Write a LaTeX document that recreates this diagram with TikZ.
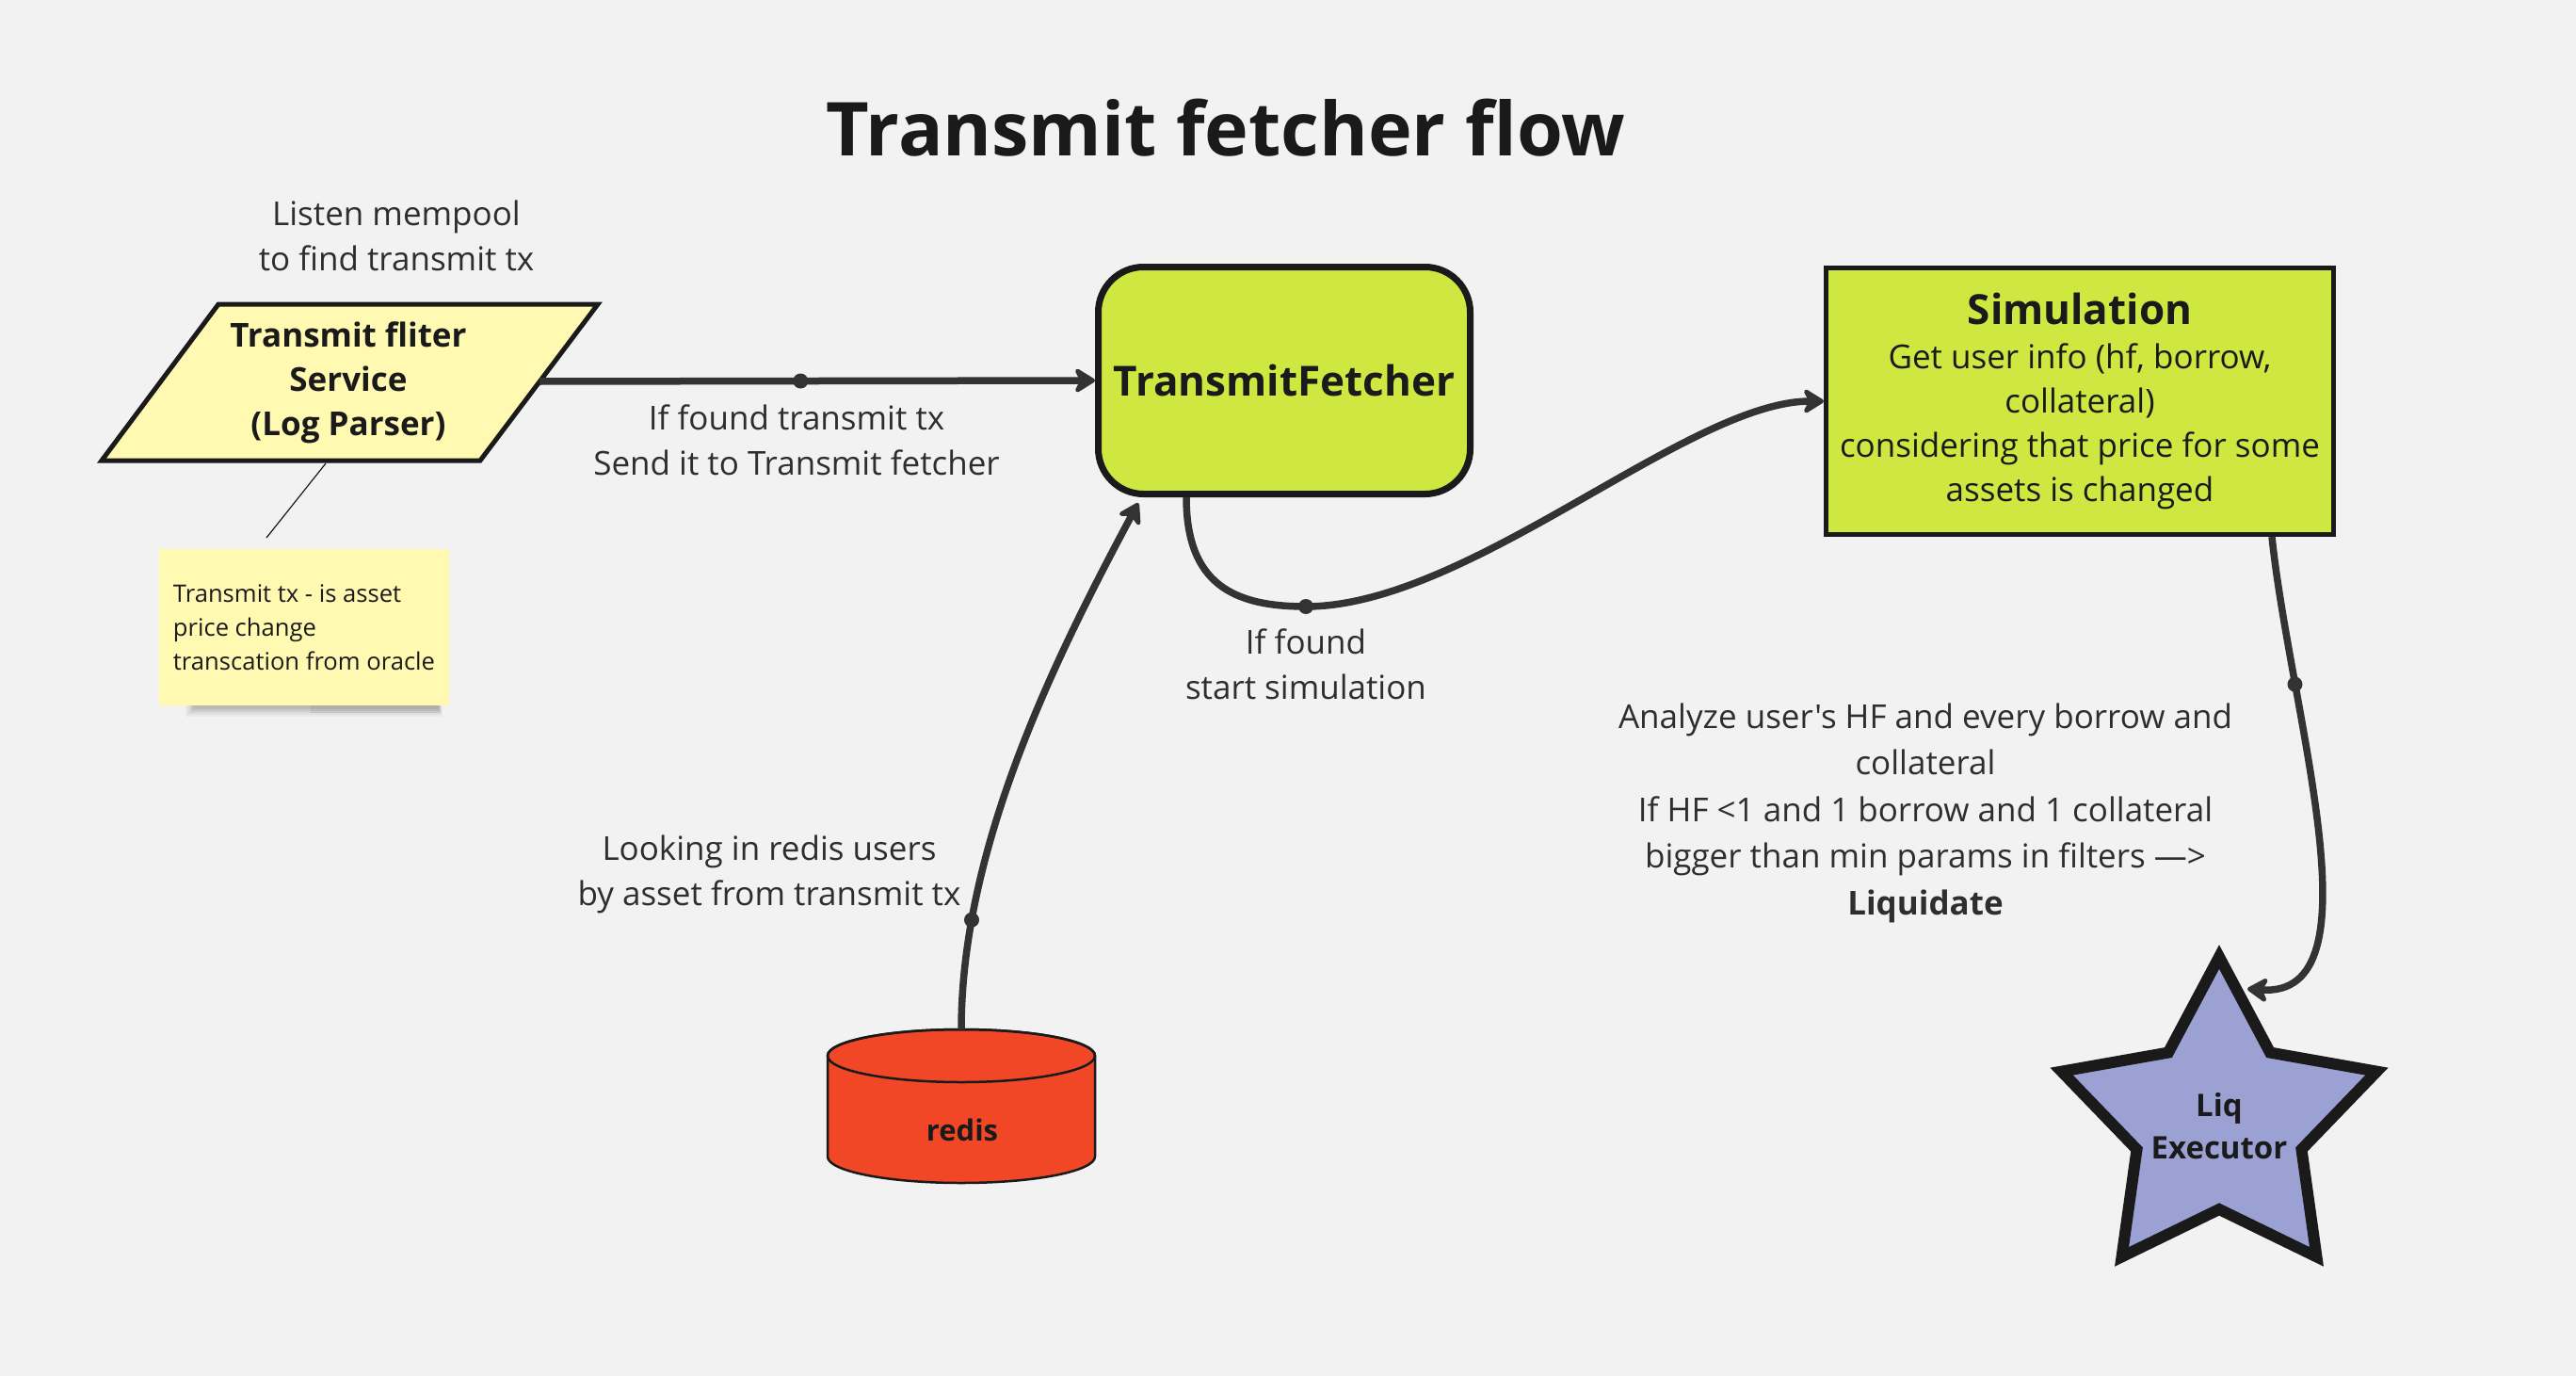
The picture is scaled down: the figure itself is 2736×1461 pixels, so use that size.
\documentclass[tikz,border=0pt]{standalone}
\usepackage{fontspec}
\setmainfont{Open Sans}[Ligatures=TeXOff]
\usetikzlibrary{arrows.meta,calc}
\definecolor{bg}{HTML}{F2F2F2}
\definecolor{lime}{HTML}{CEE741}
\definecolor{pale}{HTML}{FFF9B1}
\definecolor{redisc}{HTML}{F24726}
\definecolor{starc}{HTML}{9BA1D3}
\definecolor{ink}{HTML}{1A1A1A}
\definecolor{txt}{HTML}{2E2E2E}
\definecolor{wire}{HTML}{333333}
\begin{document}
\begin{tikzpicture}[x=1pt,y=1pt,
  conn/.style={draw=wire, line width=7.5pt, -{Stealth[length=26pt,width=32pt,inset=8pt,round]}},
  dotn/.style={circle, fill=wire, inner sep=0pt, minimum size=16pt},
  lbl/.style={text=txt, align=center, font=\fontsize{35}{48}\selectfont},
  boldtxt/.style={text=ink, align=center, font=\bfseries\fontsize{35}{47}\selectfont},
  limebox/.style={draw=ink, fill=lime, inner sep=0pt}
]
\fill[bg] (0,0) rectangle (2736,-1461);
\useasboundingbox (0,0) rectangle (2736,-1461);

% title
\node[text=ink, font=\bfseries\fontsize{79}{90}\selectfont] (title) at (1302,-136) {Transmit fetcher flow};

% filter parallelogram
\draw[draw=ink, fill=pale, line width=5pt, line join=miter] (232,-323) -- (635,-323) -- (510,-489) -- (108,-489) -- cycle;
\node[boldtxt] (filter) at (370,-406) {Transmit fliter\\Service\\(Log Parser)};
\coordinate (filterE) at (573,-405);
\coordinate (filterS) at (346,-492);
\node[lbl] (listen) at (421,-250) {Listen mempool\\to find transmit tx};

% sticky note shadow
\foreach \i/\o in {0/0.07,2/0.06,4/0.05,6/0.04,8/0.03}{
  \fill[black, opacity=\o] (205-\i,-745) rectangle (466+\i/2,-753-\i);
}
\fill[black, opacity=0.06] (330,-748) rectangle (468,-757);
\node[fill=pale, minimum width=308pt, minimum height=166pt, inner sep=0pt, align=left,
      text=ink, font=\fontsize{25.6}{36}\selectfont] (note) at (323,-666)
      {Transmit tx - is asset\\price change\\transcation from oracle};
\coordinate (noteN) at (283,-571);
\draw[ink, line width=1.2pt] (filterS) -- (noteN);

% TransmitFetcher
\node[limebox, rounded corners=48pt, line width=7pt, minimum width=395pt, minimum height=241pt,
      font=\bfseries\fontsize{44}{50}\selectfont, text=ink] (tf) at (1364,-404) {TransmitFetcher};

% Simulation
\node[limebox, line width=5pt, minimum width=539pt, minimum height=283pt, align=center,
      text=ink, font=\fontsize{35}{47}\selectfont] (sim) at (2209,-426)
      {{\bfseries\fontsize{44}{47}\selectfont Simulation}\\Get user info (hf, borrow,\\collateral)\\considering that price for some\\assets is changed};

% redis cylinder
\draw[draw=ink, fill=redisc, line width=2.5pt] (879,-1121) -- (879,-1228)
   arc[start angle=180, end angle=360, x radius=142pt, y radius=28pt] -- (1163,-1121)
   arc[start angle=0, end angle=180, x radius=142pt, y radius=28pt] -- cycle;
\draw[draw=ink, line width=2.5pt] (1021,-1121) ellipse[x radius=142pt, y radius=28pt];
\node[text=ink, font=\bfseries\fontsize{31}{36}\selectfont] (redis) at (1022,-1200) {redis};
\coordinate (redistop) at (1021,-1093);

% star
\begin{scope}[shift={(2357,-1192)}]
\draw[draw=ink, fill=starc, line width=12pt, line join=miter]
  (90:176pt) -- (126:92pt) -- (162:176pt) -- (198:92pt) -- (234:176pt) -- (270:92pt)
  -- (306:176pt) -- (342:92pt) -- (18:176pt) -- (54:92pt) -- cycle;
\end{scope}
\node[text=ink, align=center, font=\bfseries\fontsize{33}{45}\selectfont] (liq) at (2357,-1196) {Liq\\Executor};
\coordinate (liqtip) at (2387,-1050);

% connectors
\draw[conn] (filterE) -- (tf.west) node[dotn, pos=0.47] (d1) {};
\node[lbl] (l1) at (846,-467) {If found transmit tx\\Send it to Transmit fetcher};

\node[dotn] (d2) at (1387,-644) {};
\draw[conn] ($(tf.south)+(-104,0)$) .. controls +(0,-92) and +(-77,0) .. (d2.center)
   .. controls +(173,0) and +(-144,0) .. (sim.west);
\node[lbl] (l2) at (1387,-705) {If found\\start simulation};

\draw[conn] (redistop) .. controls (1021,-900) and (1120,-700) .. ($(tf.south)+(-155,-6)$)
   node[dotn, pos=0.2] (d3) {};
\node[lbl] (l3) at (817,-928) {Looking in redis users\\by asset from transmit tx};

\draw[conn] ($(sim.south east)+(-68,0)$) .. controls +(20,-190) and +(143,-10) .. (liqtip)
   node[dotn, pos=0.25] (d4) {};
\node[lbl, font=\fontsize{35}{49.5}\selectfont] (l4) at (2045,-863)
  {Analyze user's HF and every borrow and\\collateral\\If HF <1 and 1 borrow and 1 collateral\\bigger than min params in filters —>\\{\bfseries Liquidate}};
\end{tikzpicture}
\end{document}
